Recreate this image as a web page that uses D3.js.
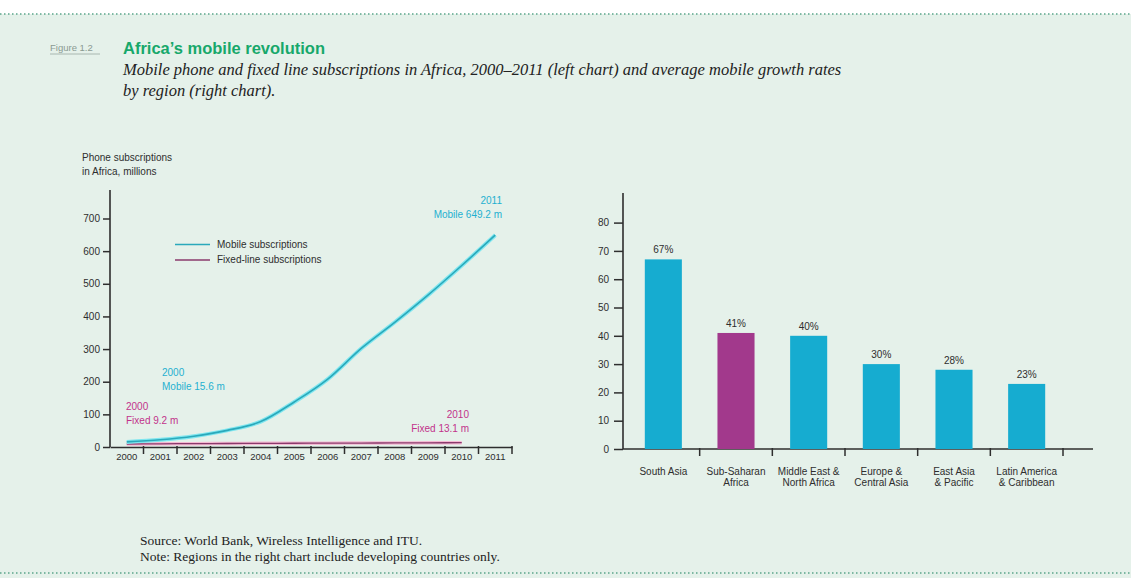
<!DOCTYPE html>
<html>
<head>
<meta charset="utf-8">
<script src="https://cdn.jsdelivr.net/npm/d3@7"></script>
<style>
  body { margin: 0; background: #fff; }
  svg { display: block; }
</style>
</head>
<body>
<div id="chart"></div>
<script>
// left chart data (millions)
const years = ['2000', '2001', '2002', '2003', '2004', '2005', '2006', '2007', '2008', '2009', '2010', '2011'];
const mobileSubs = [15.6, 22, 33, 51, 78, 138, 208, 302, 382, 466, 556, 649.2];
const fixedYears = ['2000', '2001', '2002', '2003', '2004', '2005', '2006', '2007', '2008', '2009', '2010'];
const fixedSubs = [9.2, 9.8, 10.3, 10.8, 11.2, 11.5, 11.8, 12.0, 12.4, 12.8, 13.1];
const leftTicks = [0, 100, 200, 300, 400, 500, 600, 700];

// right chart data (%)
const regions = [
    ['South Asia'],
    ['Sub-Saharan', 'Africa'],
    ['Middle East &', 'North Africa'],
    ['Europe &', 'Central Asia'],
    ['East Asia', '& Pacific'],
    ['Latin America', '& Caribbean']
];
const growth = [67, 41, 40, 30, 28, 23];
const rightTicks = [0, 10, 20, 30, 40, 50, 60, 70, 80];

const W = 1131, H = 578;
const cyan = '#16acd0', magenta = '#a2398c', teal = '#2aa9bb', ink = '#2e2e2e';
const sans = 'Liberation Sans, Arial, sans-serif';
const serif = 'Liberation Serif, Times New Roman, serif';
const fs = 10;

const svg = d3.select('#chart').append('svg')
    .attr('width', W)
    .attr('height', H);

// background panel with dotted rules
svg.append('rect').attr('x', 0).attr('y', 14).attr('width', W).attr('height', H - 14).attr('fill', '#e5f1ea');
[14, 573].forEach(y => {
    svg.append('line')
        .attr('x1', 0).attr('x2', W).attr('y1', y).attr('y2', y)
        .attr('stroke', '#5aa58a').attr('stroke-width', 1.3)
        .attr('stroke-dasharray', '1.5,2.5');
});

// header
svg.append('text').attr('x', 50).attr('y', 51)
    .attr('font-family', sans).attr('font-size', 9.5).attr('fill', '#8a9a92')
    .text('Figure 1.2');
svg.append('line').attr('x1', 50).attr('x2', 100).attr('y1', 54).attr('y2', 54)
    .attr('stroke', '#9aaaa2').attr('stroke-width', 0.8);
svg.append('text').attr('x', 123).attr('y', 54)
    .attr('font-family', sans)
    .attr('font-weight', 'bold').attr('font-size', 16.5).attr('fill', '#17a86b')
    .text('Africa’s mobile revolution');
const sub = svg.append('text').attr('font-family', serif).attr('font-style', 'italic')
    .attr('font-size', 16.5).attr('fill', '#222');
sub.append('tspan').attr('x', 123).attr('y', 75)
    .text('Mobile phone and fixed line subscriptions in Africa, 2000–2011 (left chart) and average mobile growth rates');
sub.append('tspan').attr('x', 123).attr('y', 96).text('by region (right chart).');

// ---------- left chart ----------
const x = d3.scaleBand().domain(years).range([110, 512]).padding(0);
const y = d3.scaleLinear().domain([0, 700]).range([447, 218.5]);
const cx = d => x(d) + x.bandwidth() / 2;

const left = svg.append('g').attr('font-family', sans);

left.append('text').attr('x', 82).attr('y', 161).attr('font-size', fs).attr('fill', ink).text('Phone subscriptions');
left.append('text').attr('x', 82).attr('y', 175).attr('font-size', fs).attr('fill', ink).text('in Africa, millions');

const yAxis = left.append('g').attr('transform', 'translate(110,0)')
    .call(d3.axisLeft(y).tickValues(leftTicks).tickSize(7).tickPadding(3));
yAxis.select('.domain').remove();
yAxis.selectAll('line').attr('stroke', ink).attr('stroke-width', 1.5);
yAxis.selectAll('text').attr('font-size', fs).attr('fill', ink).attr('font-family', sans);
left.append('line').attr('x1', 110).attr('x2', 110).attr('y1', 190).attr('y2', 447)
    .attr('stroke', ink).attr('stroke-width', 1.6);

const xAxis = left.append('g').attr('transform', 'translate(0,447)')
    .call(d3.axisBottom(x).tickSize(0).tickPadding(6));
xAxis.select('.domain').attr('stroke', ink).attr('stroke-width', 1.6);
xAxis.selectAll('text').attr('font-size', 9.5).attr('fill', ink).attr('font-family', sans);
left.selectAll('.ybound').data(years).join('line')
    .attr('x1', d => x(d) + x.bandwidth()).attr('x2', d => x(d) + x.bandwidth())
    .attr('y1', 446).attr('y2', 454)
    .attr('stroke', ink).attr('stroke-width', 1.5);

const line = d3.line().curve(d3.curveMonotoneX);
left.append('path')
    .attr('d', line(fixedSubs.map((v, i) => [cx(fixedYears[i]), y(v)])))
    .attr('fill', 'none').attr('stroke', '#f4b8d2').attr('stroke-width', 3.5);
left.append('path')
    .attr('d', line(fixedSubs.map((v, i) => [cx(fixedYears[i]), y(v)])))
    .attr('fill', 'none').attr('stroke', '#8a3a6c').attr('stroke-width', 1.3);
left.append('path')
    .attr('d', line(mobileSubs.map((v, i) => [cx(years[i]), y(v)])))
    .attr('fill', 'none').attr('stroke', '#7fe6ef').attr('stroke-width', 4);
left.append('path')
    .attr('d', line(mobileSubs.map((v, i) => [cx(years[i]), y(v)])))
    .attr('fill', 'none').attr('stroke', teal).attr('stroke-width', 1.6);

// legend
const legend = [['Mobile subscriptions', teal], ['Fixed-line subscriptions', '#8a3a6c']];
legend.forEach((d, i) => {
    left.append('line').attr('x1', 175).attr('x2', 210)
        .attr('y1', 244.5 + i * 15.5).attr('y2', 244.5 + i * 15.5)
        .attr('stroke', d[1]).attr('stroke-width', 1.4);
    left.append('text').attr('x', 217).attr('y', 247.5 + i * 15.5)
        .attr('font-size', fs).attr('fill', ink).text(d[0]);
});

// annotations
const note = (lines, xx, yy, color, anchor) => {
    lines.forEach((t, i) => left.append('text')
        .attr('x', xx).attr('y', yy + i * 13.5)
        .attr('text-anchor', anchor).attr('font-size', fs).attr('fill', color).text(t));
};
note(['2011', 'Mobile ' + mobileSubs[11] + ' m'], 502, 204, '#1fb0d0', 'end');
note(['2000', 'Mobile ' + mobileSubs[0] + ' m'], 162, 376, '#1fb0d0', 'start');
note(['2000', 'Fixed ' + fixedSubs[0] + ' m'], 126, 410, '#c2338a', 'start');
note(['2010', 'Fixed ' + fixedSubs[10] + ' m'], 469, 418, '#c2338a', 'end');

// ---------- right chart ----------
const names = regions.map(d => d.join(' '));
const xb = d3.scaleBand().domain(names).range([627, 1063]).paddingInner(0.49).paddingOuter(0.245);
const step = xb.step();
const yb = d3.scaleLinear().domain([0, 80]).range([449, 222.6]);

const right = svg.append('g').attr('font-family', sans);

const ybAxis = right.append('g').attr('transform', 'translate(623,0)')
    .call(d3.axisLeft(yb).tickValues(rightTicks).tickSize(9).tickPadding(5));
ybAxis.select('.domain').remove();
ybAxis.selectAll('line').attr('stroke', ink).attr('stroke-width', 1.5);
ybAxis.selectAll('text').attr('font-size', fs).attr('fill', ink).attr('font-family', sans);
right.append('line').attr('x1', 623).attr('x2', 623).attr('y1', 193).attr('y2', 449)
    .attr('stroke', ink).attr('stroke-width', 1.6);
right.append('line').attr('x1', 623).attr('x2', 1093).attr('y1', 449).attr('y2', 449)
    .attr('stroke', ink).attr('stroke-width', 1.6);

right.selectAll('.bar').data(growth).join('rect')
    .attr('x', (d, i) => xb(names[i]))
    .attr('width', xb.bandwidth())
    .attr('y', d => yb(d))
    .attr('height', d => yb(0) - yb(d))
    .attr('fill', (d, i) => i === 1 ? magenta : cyan);

right.selectAll('.val').data(growth).join('text')
    .attr('x', (d, i) => xb(names[i]) + xb.bandwidth() / 2)
    .attr('y', d => yb(d) - 6)
    .attr('text-anchor', 'middle').attr('font-size', fs).attr('fill', ink)
    .text(d => d + '%');

right.selectAll('.bound').data(names).join('line')
    .attr('x1', d => xb(d) + xb.bandwidth() / 2 + step / 2)
    .attr('x2', d => xb(d) + xb.bandwidth() / 2 + step / 2)
    .attr('y1', 448).attr('y2', 456)
    .attr('stroke', ink).attr('stroke-width', 1.5);

regions.forEach((r, i) => {
    r.forEach((t, j) => right.append('text')
        .attr('x', xb(names[i]) + xb.bandwidth() / 2)
        .attr('y', 475 + j * 11)
        .attr('text-anchor', 'middle').attr('font-size', fs).attr('fill', ink).text(t));
});

// footer
svg.append('text').attr('x', 140).attr('y', 545)
    .attr('font-family', serif).attr('font-size', 13.5).attr('fill', '#222')
    .text('Source: World Bank, Wireless Intelligence and ITU.');
svg.append('text').attr('x', 140).attr('y', 561)
    .attr('font-family', serif).attr('font-size', 13.5).attr('fill', '#222')
    .text('Note: Regions in the right chart include developing countries only.');
</script>
</body>
</html>
